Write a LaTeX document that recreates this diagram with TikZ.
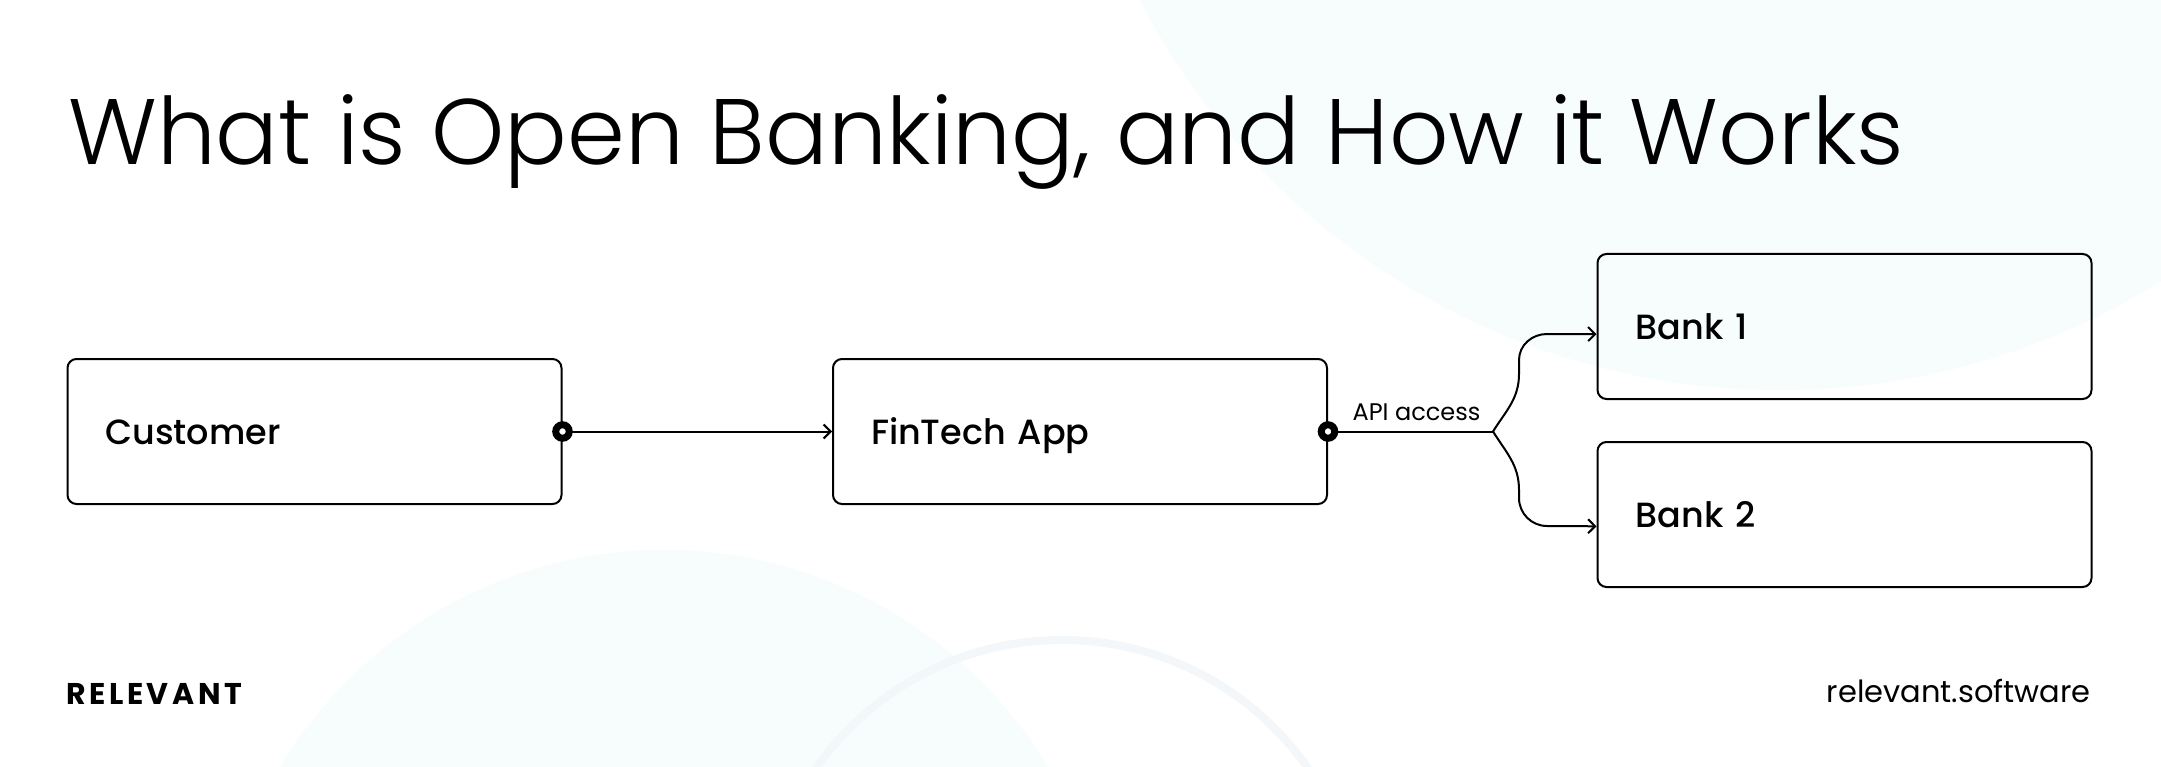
\documentclass[tikz,border=0pt]{standalone}
\usepackage{fontspec}
\setmainfont{Poppins}
\newfontfamily\thinfont{Poppins}[UprightFont=* Light]
\newfontfamily\medfont{Poppins}[UprightFont=* Medium]
\newfontfamily\boldfont{Poppins}[UprightFont=* Bold,LetterSpace=12]
\usetikzlibrary{arrows.meta}
\definecolor{bgblue}{HTML}{F7FCFD}
\definecolor{ringblue}{HTML}{F3F7FA}

\begin{document}
\begin{tikzpicture}[x=1pt,y=-1pt,
  box/.style={draw,line width=2pt,rounded corners=9pt,minimum height=145pt,
    text width=418pt,inner xsep=38pt,align=left,text height=26pt,text depth=0pt,
    font=\medfont\fontsize{35}{35}\selectfont},
  con/.style={line width=2pt,-{Straight Barb[length=7pt,width=14pt]}},
  dot/.style={circle,draw=black,fill=white,line width=7pt,minimum size=13.5pt,inner sep=0pt}]

  %baggrund
	\useasboundingbox (0,0) rectangle (2161,767);
	\fill[white] (0,0) rectangle (2161,767);
	\begin{scope}
	\clip (0,0) rectangle (2161,767);
	\fill[bgblue] (1780,-330) circle (720pt);
	\fill[bgblue] (664,998) circle (448pt);
	\draw[ringblue,line width=8pt] (1062,940) circle (300pt);
	\end{scope}

  %overskrift
	\node[anchor=base west,inner sep=0pt,font=\thinfont\fontsize{93}{93}\selectfont] (title) at (68,165) {What is Open Banking, and How it Works};

  %bokse
	\node[box] (cust) at (314.5,431.5) {Customer};
	\node[box] (fin) at (1080,431.5) {FinTech App};
	\node[box] (bank1) at (1844.5,326.5) {Bank 1};
	\node[box] (bank2) at (1844.5,514.5) {Bank 2};

  %forbindelser
	\coordinate (split) at (1493,431.5);
	\draw[con] (cust.east) -- (fin.west);
	\draw[line width=2pt] (fin.east) -- (split) node[midway,above=7pt,xshift=6pt,inner sep=3pt,font=\fontsize{24}{24}\selectfont] (api) {API access};
	\draw[con] (split) to[out=58,in=-90] (1519,374) -- (1519,360) to[out=90,in=180] (1547,334) -- ([yshift=-7.6pt]bank1.west);
	\draw[con] (split) to[out=-58,in=90] (1519,490) -- (1519,498) to[out=-90,in=180] (1547,526) -- ([yshift=-11.8pt]bank2.west);
	\node[dot] (d1) at (cust.east) {};
	\node[dot] (d2) at (fin.east) {};

  %bund
	\node[anchor=base west,inner sep=0pt,font=\boldfont\fontsize{30}{30}\selectfont] (logo) at (66,704) {RELEVANT};
	\node[anchor=base east,inner sep=0pt,font=\fontsize{30.5}{30.5}\selectfont] (site) at (2091,702) {relevant.software};

\end{tikzpicture}
\end{document}
